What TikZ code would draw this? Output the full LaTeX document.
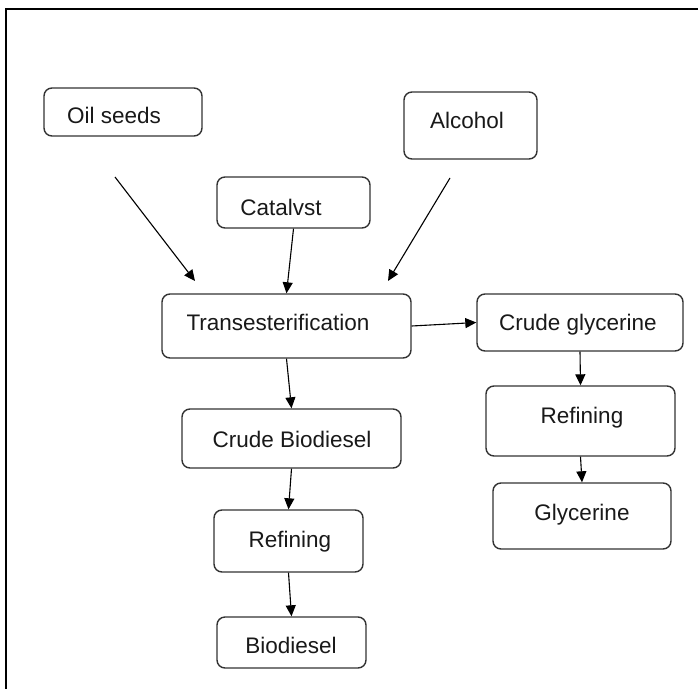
\documentclass[tikz,border=0pt]{standalone}
\usepackage{fontspec}
\setmainfont{Liberation Sans}
\usetikzlibrary{arrows.meta}
\begin{document}
\begin{tikzpicture}[x=1pt,y=-1pt,
  box/.style={draw=black!80, line width=1.4pt, rounded corners=8pt, fill=white, inner sep=0pt},
  lbl/.style={anchor=base, inner sep=0pt, font=\fontsize{22.5}{27}\selectfont, text=black!90},
  arr/.style={-{Triangle[length=11pt,width=10pt]}, line width=1.1pt, black}]
\useasboundingbox (0,0) rectangle (698,688);
\fill[white] (0,0) rectangle (698,688);
% frame
\draw[line width=2pt] (6,690) -- (6,9) -- (700,9);
% boxes
\node[box, minimum width=158pt, minimum height=48pt] (os) at (123,112) {};
\node[box, minimum width=133pt, minimum height=67pt] (alc) at (470.5,125.5) {};
\node[box, minimum width=153pt, minimum height=51pt] (cat) at (293.5,202.5) {};
\node[box, minimum width=249pt, minimum height=64pt] (tr) at (286.5,326) {};
\node[box, minimum width=206pt, minimum height=57pt] (cg) at (580,322.5) {};
\node[box, minimum width=189pt, minimum height=70pt] (rr) at (580.5,421) {};
\node[box, minimum width=178pt, minimum height=66pt] (gl) at (582,516) {};
\node[box, minimum width=219pt, minimum height=59pt] (cb) at (291.5,438.5) {};
\node[box, minimum width=149pt, minimum height=62pt] (rl) at (288.5,541) {};
\node[box, minimum width=149pt, minimum height=51pt] (bd) at (291.5,642.5) {};
% texts
\node[lbl] (os-t) at (114,123) {Oil seeds};
\node[lbl] (alc-t) at (467,128) {Alcohol};
\node[lbl] (cat-t) at (281,215) {Catalvst};
\node[lbl] (tr-t) at (278,330) {Transesterification};
\node[lbl] (cg-t) at (578,330) {Crude glycerine};
\node[lbl] (rr-t) at (582,423) {Refining};
\node[lbl] (gl-t) at (582,520) {Glycerine};
\node[lbl] (cb-t) at (292,447) {Crude Biodiesel};
\node[lbl] (rl-t) at (290,547) {Refining};
\node[lbl] (bd-t) at (291,653) {Biodiesel};
% free ends
\coordinate (osa) at (115,177);
\coordinate (osb) at (195,281);
\coordinate (ala) at (450,178);
\coordinate (alb) at (388,281);
% connectors
\draw[arr] (osa) -- (osb);
\draw[arr] (ala) -- (alb);
\draw[arr] (cat.south) -- (tr.north);
\draw[arr] (tr.south) -- (cb.north);
\draw[arr] (cb.south) -- (rl.north);
\draw[arr] (rl.south) -- (bd.north);
\draw[arr] (tr.east) -- (cg.west);
\draw[arr] (cg.south) -- (rr.north);
\draw[arr] (rr.south) -- (gl.north);
\end{tikzpicture}
\end{document}
